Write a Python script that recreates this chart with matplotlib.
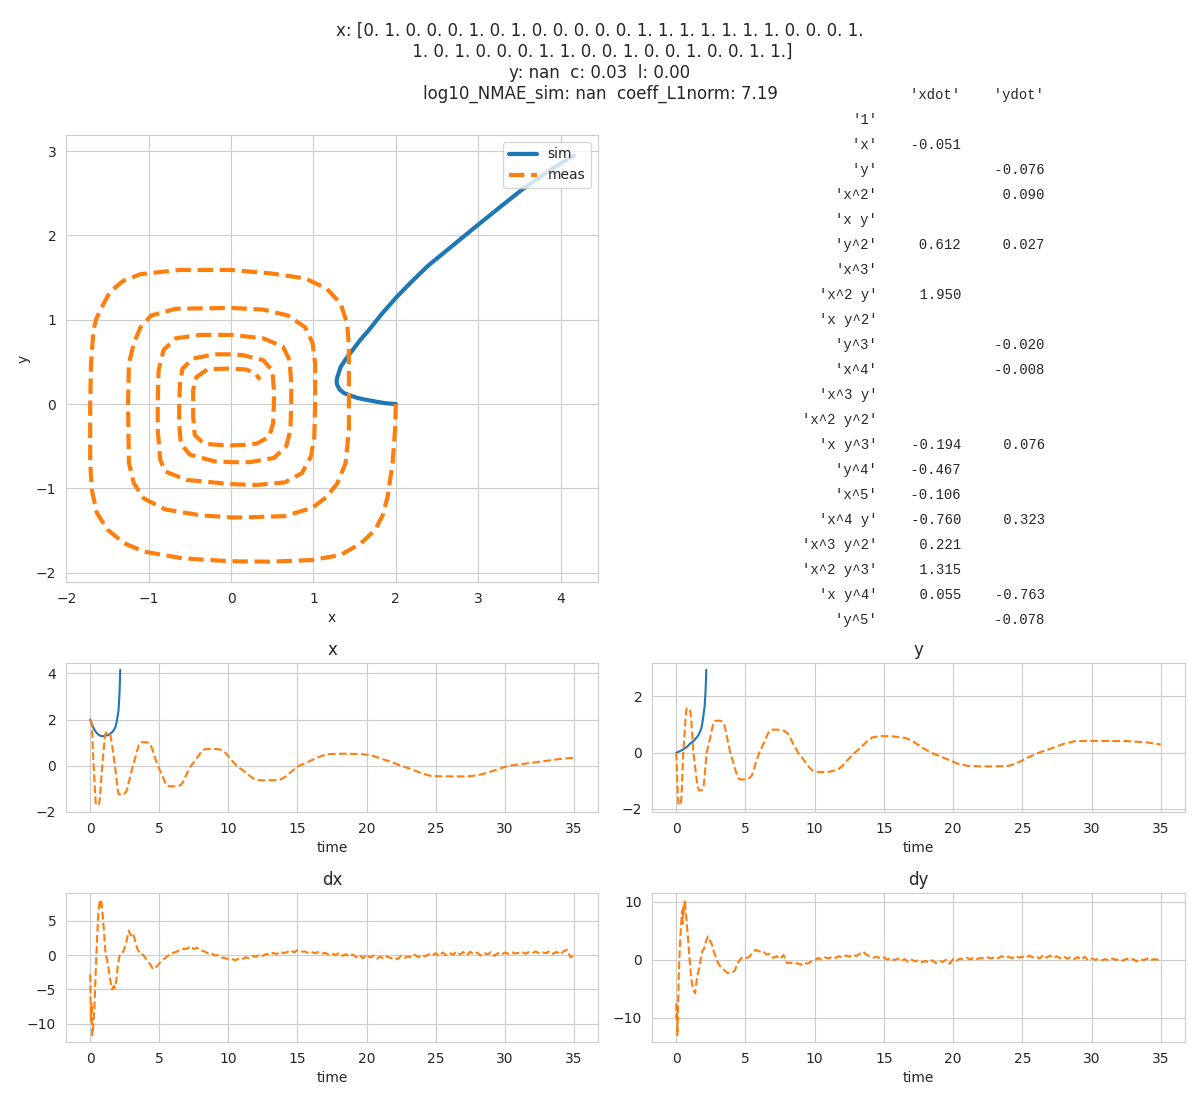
import numpy as np
import matplotlib
matplotlib.use('Agg')
import matplotlib.pyplot as plt
import seaborn as sns

sns.set_style('whitegrid')
plt.rcParams['font.family'] = ['DejaVu Sans']

# ---------------- data ----------------
title_lines = [
    "x: [0. 1. 0. 0. 0. 1. 0. 1. 0. 0. 0. 0. 0. 1. 1. 1. 1. 1. 1. 1. 0. 0. 0. 1.",
    " 1. 0. 1. 0. 0. 0. 1. 1. 0. 0. 1. 0. 0. 1. 0. 0. 1. 1.]",
    "y: nan  c: 0.03  l: 0.00",
    "log10_NMAE_sim: nan  coeff_L1norm: 7.19",
]

terms = ['1', 'x', 'y', 'x^2', 'x y', 'y^2', 'x^3', 'x^2 y', 'x y^2', 'y^3',
         'x^4', 'x^3 y', 'x^2 y^2', 'x y^3', 'y^4', 'x^5', 'x^4 y',
         'x^3 y^2', 'x^2 y^3', 'x y^4', 'y^5']
coef_xdot = [None, -0.051, None, None, None, 0.612, None, 1.950, None, None,
             None, None, None, -0.194, -0.467, -0.106, -0.760, 0.221, 1.315,
             0.055, None]
coef_ydot = [None, None, -0.076, 0.090, None, 0.027, None, None, None, -0.020,
             -0.008, None, None, 0.076, None, None, 0.323, None, None,
             -0.763, -0.078]

# simulated trajectory
t_sim = [0.0, 0.07, 0.15, 0.24, 0.33, 0.44, 0.55, 0.67, 0.8, 0.9, 1.0, 1.15, 1.3,
         1.45, 1.6, 1.72, 1.82, 1.89, 1.95, 2.0, 2.05, 2.08, 2.11, 2.13, 2.145,
         2.16, 2.17]
x_sim = [2.0, 1.87, 1.75, 1.64, 1.54, 1.45, 1.37, 1.32, 1.29, 1.28, 1.29, 1.31, 1.33,
         1.39, 1.46, 1.56, 1.67, 1.83, 2.01, 2.2, 2.39, 2.69, 2.99, 3.27, 3.54,
         3.85, 4.16]
y_sim = [0.0, 0.01, 0.03, 0.05, 0.07, 0.10, 0.13, 0.17, 0.22, 0.27, 0.32, 0.38, 0.44,
         0.53, 0.62, 0.75, 0.875, 1.07, 1.27, 1.46, 1.64, 1.88, 2.12, 2.34, 2.55,
         2.76, 2.95]

# measured trajectory
t_meas = [0.0, 0.026, 0.058, 0.088, 0.103, 0.118, 0.134, 0.154, 0.176, 0.213, 0.25,
          0.305, 0.345, 0.367, 0.387, 0.406, 0.426, 0.45, 0.51,
          0.578, 0.628, 0.643, 0.658, 0.69, 0.714, 0.738, 0.79, 0.87,
          0.948, 1.009, 1.048, 1.08, 1.112, 1.145, 1.24,
          1.319, 1.412, 1.471, 1.516, 1.563, 1.639, 1.756, 1.79,
          1.867, 1.947, 1.997, 2.034, 2.074, 2.2,
          2.428, 2.535, 2.617, 2.694, 2.81, 3.09,
          3.282, 3.416, 3.521, 3.602, 3.695, 3.9,
          4.148, 4.28, 4.404, 4.53, 4.712, 4.9,
          5.299, 5.473, 5.563, 5.779, 6.0,
          6.38, 6.582, 6.745, 6.974, 7.3,
          7.789, 8.07, 8.248, 8.529, 8.8,
          9.29, 9.567, 9.849, 10.263, 10.6,
          11.055, 11.683, 12.003, 12.429, 12.9,
          13.45, 13.809, 14.156, 14.669, 15.1,
          15.661, 16.582, 17.11, 17.809, 18.4,
          19.564, 20.315, 21.049, 21.86, 22.5,
          23.25, 24.013, 24.624, 25.501, 26.2,
          27.2, 28.012, 28.808, 29.849, 30.3,
          32.6, 33.93, 35.0]
x_meas = [2.0, 1.99, 1.96, 1.90, 1.84, 1.75, 1.58, 1.33, 0.99, 0.48, 0.0,
          -0.59, -1.06, -1.30, -1.50, -1.63, -1.69, -1.71, -1.71,
          -1.70, -1.67, -1.64, -1.59, -1.47, -1.31, -1.10, -0.63, 0.0,
          0.48, 0.90, 1.16, 1.33, 1.41, 1.43, 1.43,
          1.43, 1.39, 1.29, 1.16, 0.99, 0.65, 0.14, 0.0,
          -0.37, -0.80, -1.06, -1.18, -1.24, -1.25,
          -1.24, -1.18, -1.10, -0.97, -0.67, 0.0,
          0.39, 0.69, 0.90, 0.99, 1.02, 1.02,
          1.01, 0.97, 0.86, 0.65, 0.31, 0.0,
          -0.54, -0.80, -0.86, -0.89, -0.89,
          -0.88, -0.82, -0.67, -0.37, 0.0,
          0.39, 0.63, 0.71, 0.73, 0.73,
          0.72, 0.67, 0.52, 0.22, 0.0,
          -0.20, -0.50, -0.61, -0.63, -0.63,
          -0.62, -0.59, -0.46, -0.20, 0.0,
          0.14, 0.39, 0.50, 0.52, 0.52,
          0.51, 0.46, 0.31, 0.15, 0.0,
          -0.15, -0.33, -0.44, -0.46, -0.46,
          -0.46, -0.42, -0.29, -0.08, 0.0,
          0.18, 0.29, 0.35]
y_meas = [0.0, -0.31, -0.70, -1.10, -1.32, -1.49, -1.65, -1.79, -1.85, -1.87, -1.865,
          -1.83, -1.75, -1.65, -1.49, -1.29, -1.02, -0.70, 0.0,
          0.48, 0.875, 1.0, 1.11, 1.33, 1.46, 1.54, 1.59, 1.59,
          1.55, 1.49, 1.37, 1.19, 0.95, 0.68, 0.0,
          -0.31, -0.70, -0.94, -1.10, -1.23, -1.33, -1.345, -1.345,
          -1.32, -1.25, -1.12, -0.94, -0.70, 0.0,
          0.48, 0.72, 0.91, 1.05, 1.13, 1.14,
          1.12, 1.05, 0.91, 0.72, 0.48, 0.0,
          -0.39, -0.62, -0.82, -0.93, -0.96, -0.95,
          -0.90, -0.80, -0.66, -0.31, 0.0,
          0.40, 0.64, 0.78, 0.82, 0.82,
          0.78, 0.68, 0.52, 0.24, 0.0,
          -0.31, -0.50, -0.64, -0.69, -0.69,
          -0.68, -0.60, -0.47, -0.23, 0.0,
          0.24, 0.42, 0.54, 0.59, 0.59,
          0.58, 0.52, 0.40, 0.17, 0.0,
          -0.23, -0.39, -0.47, -0.485, -0.49,
          -0.485, -0.47, -0.37, -0.15, 0.0,
          0.17, 0.32, 0.41, 0.42, 0.42,
          0.41, 0.37, 0.29]

# measured derivatives
t_dx_early = [0.0, 0.05, 0.1, 0.15, 0.2, 0.3, 0.4, 0.5, 0.6, 0.7, 0.75, 0.8, 0.9, 1.0,
              1.1, 1.2, 1.3, 1.4, 1.5, 1.6, 1.7, 1.8, 1.9, 2.0, 2.1, 2.2, 2.4, 2.6,
              2.8, 2.9, 3.0, 3.1, 3.2, 3.4, 3.6, 3.8, 4.0, 4.2, 4.4, 4.5, 4.6, 4.8, 5.0]
dx_early = [-2.8, -9.5, -7.0, -11.7, -11.0, -8.0, -2.5, 2.5, 6.5, 8.1, 7.2, 8.0, 6.0, 3.5,
            0.5, -0.5, -1.5, -3.0, -4.2, -5.0, -4.5, -4.8, -3.5, -1.5, -0.3, 0.3, 0.5, 1.8,
            3.6, 3.0, 2.9, 3.2, 2.5, 1.0, 0.2, 0.1, -0.4, -1.0, -1.5, -1.9, -1.6, -1.7, -1.2]
t_dy_early = [0.0, 0.03, 0.06, 0.08, 0.12, 0.18, 0.26, 0.35, 0.42, 0.46, 0.5, 0.55, 0.62,
              0.7, 0.8, 0.9, 1.0, 1.1, 1.2, 1.3, 1.36, 1.45, 1.55, 1.67, 1.8, 1.9, 2.0,
              2.1, 2.2, 2.3, 2.37, 2.45, 2.57, 2.7, 2.88, 3.0, 3.2, 3.47, 3.7, 4.0, 4.25,
              4.4, 4.5, 4.7, 4.9, 5.0]
dy_early = [-7.5, -10.0, -8.0, -13.0, -9.0, -3.0, 2.2, 6.0, 8.5, 6.2, 9.0, 8.0, 10.3,
            8.0, 5.0, 2.2, -1.0, -3.5, -5.0, -5.5, -5.8, -4.0, -2.5, -1.3, 0.5, 1.6, 1.8,
            2.8, 3.5, 4.0, 3.9, 3.2, 2.7, 1.5, 0.3, -0.5, -1.2, -1.8, -2.3, -2.3, -1.8,
            -0.6, -0.4, 0.3, 0.2, 0.3]
t_late = [5.25, 5.5, 5.75, 6.0, 6.25, 6.5, 6.75, 7.0, 7.25, 7.5, 7.75, 8.0,
          8.25, 8.5, 8.75, 9.0, 9.25, 9.5, 9.75, 10.0, 10.25, 10.5, 10.75, 11.0,
          11.25, 11.5, 11.75, 12.0, 12.25, 12.5, 12.75, 13.0, 13.25, 13.5, 13.75, 14.0,
          14.25, 14.5, 14.75, 15.0, 15.25, 15.5, 15.75, 16.0, 16.25, 16.5, 16.75, 17.0,
          17.25, 17.5, 17.75, 18.0, 18.25, 18.5, 18.75, 19.0, 19.25, 19.5, 19.75, 20.0,
          20.25, 20.5, 20.75, 21.0, 21.25, 21.5, 21.75, 22.0, 22.25, 22.5, 22.75, 23.0,
          23.25, 23.5, 23.75, 24.0, 24.25, 24.5, 24.75, 25.0, 25.25, 25.5, 25.75, 26.0,
          26.25, 26.5, 26.75, 27.0, 27.25, 27.5, 27.75, 28.0, 28.25, 28.5, 28.75, 29.0,
          29.25, 29.5, 29.75, 30.0, 30.25, 30.5, 30.75, 31.0, 31.25, 31.5, 31.75, 32.0,
          32.25, 32.5, 32.75, 33.0, 33.25, 33.5, 33.75, 34.0, 34.25, 34.5, 34.75, 35.0]
dx_late = [-0.7, -0.3, 0.1, 0.35, 0.5, 0.8, 0.9, 0.95, 1.3, 0.9, 1.1, 0.7,
           0.55, 0.3, 0.35, -0.05, 0.0, -0.35, -0.4, -0.6, -0.55, -0.75, -0.5, -0.6,
           -0.3, -0.45, -0.1, -0.25, 0.1, -0.1, 0.2, 0.05, 0.35, 0.15, 0.5, 0.3,
           0.45, 0.7, 0.4, 0.75, 0.5, 0.55, 0.35, 0.5, 0.3, 0.45, 0.2, 0.35,
           0.1, 0.25, 0.0, 0.3, -0.1, 0.15, -0.2, 0.1, -0.3, 0.0, -0.45, 0.1,
           -0.35, -0.05, -0.5, -0.2, -0.55, -0.15, -0.45, -0.3, -0.6, -0.1, -0.4, -0.15,
           -0.35, 0.05, -0.3, 0.0, -0.2, 0.15, -0.1, 0.3, -0.15, 0.4, 0.0, 0.35,
           0.05, 0.5, 0.1, 0.45, 0.0, 0.5, 0.15, 0.4, -0.05, 0.35, 0.1, 0.45,
           -0.1, 0.3, 0.05, 0.4, 0.2, 0.45, 0.25, 0.35, 0.5, 0.2, 0.45, 0.3,
           0.55, 0.25, 0.4, 0.3, 0.6, 0.2, 0.5, 0.1, 0.55, 0.8, -0.3, 0.05]
dy_late = [0.4, 1.2, 1.7, 1.4, 1.5, 0.9, 1.0, 0.3, 0.6, 0.1, 0.8, -0.6,
           -0.5, -0.8, -0.6, -0.9, -0.5, -0.7, -0.3, -0.2, 0.3, 0.0, 0.4, 0.2,
           0.5, 0.3, 0.6, 0.35, 0.7, 0.5, 0.9, 0.6, 1.0, 1.4, 0.8, 0.6,
           0.35, 0.5, 0.2, 0.4, 0.0, 0.3, -0.1, 0.2, -0.2, 0.1, -0.4, 0.0,
           -0.3, -0.1, -0.45, -0.2, -0.5, -0.1, -0.6, -0.2, -0.4, 0.0, -0.7, 0.1,
           -0.2, 0.2, 0.0, 0.3, 0.05, 0.35, 0.1, 0.3, 0.15, 0.4, 0.2, 0.45,
           0.25, 0.6, 0.3, 0.5, 0.25, 0.65, 0.35, 0.5, 0.3, 0.7, 0.4, 0.55,
           0.2, 0.8, 0.35, 0.7, 0.25, 0.6, 0.2, 0.55, 0.15, 0.5, 0.1, 0.45,
           0.0, 0.5, -0.1, 0.2, -0.05, 0.15, -0.1, 0.1, -0.15, 0.2, -0.05, 0.1,
           -0.2, 0.15, 0.0, 0.1, -0.3, 0.1, -0.1, 0.2, -0.15, 0.1, 0.0, 0.25]

t_dx = t_dx_early + t_late
dx_meas = dx_early + dx_late
t_dy = t_dy_early + t_late
dy_meas = dy_early + dy_late

# ---------------- figure ----------------
W, H = 1200, 1100
fig = plt.figure(figsize=(W / 100, H / 100), dpi=100)


def box(l, t, r, b):
    return [l / W, 1 - b / H, (r - l) / W, (b - t) / H]


ax_ph = fig.add_axes(box(66, 135, 598, 582))
ax_x = fig.add_axes(box(66, 663, 598, 812))
ax_y = fig.add_axes(box(652, 663, 1185, 812))
ax_dx = fig.add_axes(box(66, 893, 598, 1042))
ax_dy = fig.add_axes(box(652, 893, 1185, 1042))

c_sim, c_meas = 'C0', 'C1'

ax_ph.plot(x_sim, y_sim, '-', lw=3, color=c_sim, label='sim')
ax_ph.plot(x_meas, y_meas, '--', lw=3, color=c_meas, label='meas')
ax_ph.set_xlabel('x')
ax_ph.set_ylabel('y')
ax_ph.legend(loc='upper right')

ax_x.plot(t_sim, x_sim, '-', color=c_sim)
ax_x.plot(t_meas, x_meas, '--', color=c_meas)
ax_x.set_title('x')
ax_x.set_xlabel('time')

ax_y.plot(t_sim, y_sim, '-', color=c_sim)
ax_y.plot(t_meas, y_meas, '--', color=c_meas)
ax_y.set_title('y')
ax_y.set_xlabel('time')

ax_dx.plot(t_dx, dx_meas, '--', color=c_meas)
ax_dx.set_title('dx')
ax_dx.set_xlabel('time')

ax_dy.plot(t_dy, dy_meas, '--', color=c_meas)
ax_dy.set_title('dy')
ax_dy.set_xlabel('time')

fig.suptitle('\n'.join(title_lines), fontsize=12, y=0.98)


def fmt(v):
    return '' if v is None else f'{v:.3f}'


rows = [' ' * 9 + "'xdot'".rjust(10) + "'ydot'".rjust(10)]
for term, a, b in zip(terms, coef_xdot, coef_ydot):
    rows.append(f"'{term}'".rjust(9) + fmt(a).rjust(10) + fmt(b).rjust(10))

char_w = 10 * 0.6 * 100 / 72  # monospace advance in pixels
x0 = 802
for i, line in enumerate(rows):
    lead = len(line) - len(line.lstrip(' '))
    fig.text((x0 + lead * char_w) / W, 1 - (95 + 25 * i) / H, line.strip(' '),
             family=['Liberation Mono', 'DejaVu Sans Mono'],
             fontsize=10, ha='left', va='center')

fig.savefig('out.png', dpi=100)
